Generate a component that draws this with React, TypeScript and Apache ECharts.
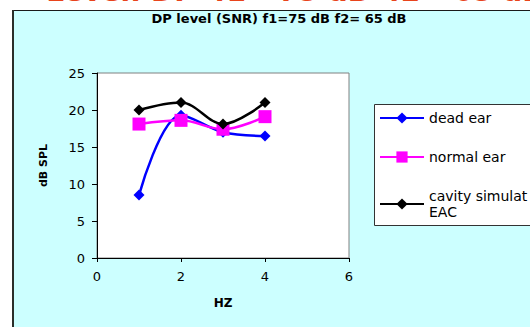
import React, { useEffect, useRef } from "react";
import * as echarts from "echarts";

const xValues = [1, 2, 3, 4];
const deadEar = [8.5, 19.3, 17.0, 16.5];
const normalEar = [18.1, 18.6, 17.4, 19.1];
const cavityEAC = [20.0, 21.0, 18.1, 21.0];
const seriesNames = ["dead ear", "normal ear", "cavity simulated EAC"];
const legendLabels = ["dead ear", "normal ear", "cavity simulat\nEAC"];
const seriesColors = ["#0000FF", "#FF00FF", "#000000"];
const chartTitle = "DP level (SNR) f1=75 dB f2= 65 dB";
const bannerText = "Level: DP  f1= 75 dB  f2= 65 dB";
const xAxisName = "HZ";
const yAxisName = "dB SPL";
const xMin = 0, xMax = 6, xStep = 2;
const yMin = 0, yMax = 25, yStep = 5;

const FONT = "'DejaVu Sans', Arial, sans-serif";

export default function App() {
  const ref = useRef<HTMLDivElement>(null);
  useEffect(() => {
    if (!ref.current) return;
    const chart = echarts.init(ref.current, undefined, { renderer: "svg" });
    const mk = (i: number, data: number[], symbol: string, size: number) => ({
      type: "line",
      name: seriesNames[i],
      data: xValues.map((x, k) => [x, data[k]]),
      smooth: 0.35,
      symbol,
      symbolSize: size,
      showAllSymbol: true,
      lineStyle: { color: seriesColors[i], width: 2.5 },
      itemStyle: { color: seriesColors[i] },
      z: 2 + i,
    });
    chart.setOption({
      animation: false,
      textStyle: { fontFamily: FONT },
      graphic: [
        {
          type: "rect",
          z: -10,
          shape: { x: 12.5, y: 10.5, width: 600, height: 400 },
          style: { fill: "#CCFFFF", stroke: "#1a1a1a", lineWidth: 1 },
        },
        {
          type: "rect",
          z: -9,
          shape: { x: 12, y: 10, width: 2, height: 400 },
          style: { fill: "#2a2f2a" },
        },
        {
          type: "text",
          z: 5,
          x: 295,
          y: 5,
          style: {
            text: bannerText,
            font: "bold 28px 'DejaVu Sans'",
            fill: "#E8441C",
            textAlign: "center",
            textVerticalAlign: "bottom",
          },
        },
        {
          type: "rect",
          z: 3,
          shape: { x: 374.5, y: 104.5, width: 200, height: 121 },
          style: { fill: "#FFFFFF", stroke: "#333333", lineWidth: 1 },
        },
      ],
      title: {
        text: chartTitle,
        left: 274,
        top: 7,
        textAlign: "center",
        textStyle: { fontSize: 13, fontWeight: "bold", color: "#000", fontFamily: FONT },
      },
      grid: {
        left: 97,
        top: 73,
        right: 181,
        bottom: 69,
        show: true,
        backgroundColor: "#FFFFFF",
        borderColor: "#808080",
        borderWidth: 1,
      },
      legend: {
        orient: "vertical",
        left: 379,
        top: 110,
        padding: 0,
        itemGap: 23,
        itemWidth: 44,
        itemHeight: 14,
        z: 5,
        textStyle: { fontSize: 14, color: "#000", lineHeight: 16, fontFamily: FONT },
        data: seriesNames,
        formatter: (n: string) => legendLabels[seriesNames.indexOf(n)],
      },
      xAxis: {
        type: "value",
        min: xMin,
        max: xMax,
        interval: xStep,
        name: xAxisName,
        nameLocation: "middle",
        nameGap: 39,
        nameTextStyle: { fontWeight: "bold", fontSize: 12, color: "#000" },
        axisLine: { show: true, onZero: false, lineStyle: { color: "#000" } },
        axisTick: { show: true, length: 4, lineStyle: { color: "#000" } },
        axisLabel: { color: "#000", fontSize: 13, margin: 12 },
        splitLine: { show: false },
      },
      yAxis: {
        type: "value",
        min: yMin,
        max: yMax,
        interval: yStep,
        name: yAxisName,
        nameLocation: "middle",
        nameGap: 48,
        nameRotate: 90,
        nameTextStyle: { fontWeight: "bold", fontSize: 11, color: "#000" },
        axisLine: { show: true, onZero: false, lineStyle: { color: "#000" } },
        axisTick: { show: true, length: 5, lineStyle: { color: "#000" } },
        axisLabel: { color: "#000", fontSize: 13, margin: 12 },
        splitLine: { show: false },
      },
      series: [
        mk(0, deadEar, "diamond", 11),
        mk(1, normalEar, "rect", 13),
        mk(2, cavityEAC, "diamond", 11),
      ],
    });
    return () => chart.dispose();
  }, []);
  return (
    <div
      ref={ref}
      style={{ position: "absolute", left: 0, top: 0, width: 530, height: 327, background: "#FFFFFF" }}
    />
  );
}
